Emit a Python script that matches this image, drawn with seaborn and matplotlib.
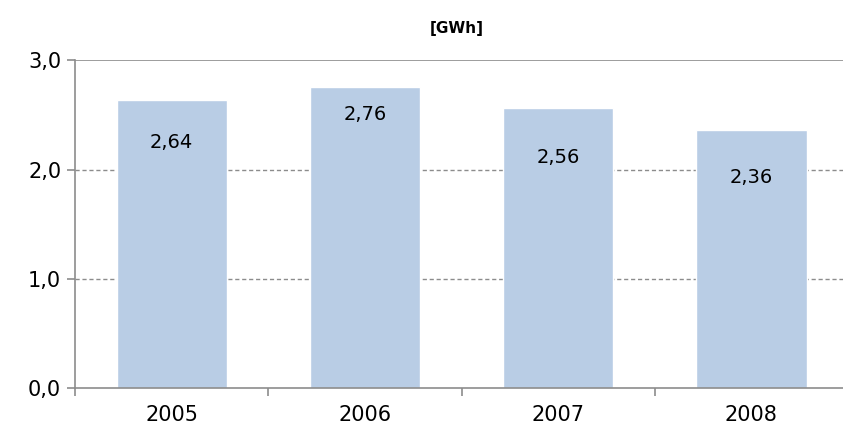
import matplotlib
matplotlib.use("Agg")
import matplotlib.pyplot as plt
import seaborn as sns
import pandas as pd
from matplotlib.ticker import FixedLocator

years = ["2005", "2006", "2007", "2008"]
values = [2.64, 2.76, 2.56, 2.36]
y_ticks = [0.0, 1.0, 2.0, 3.0]
y_tick_labels = ["0,0", "1,0", "2,0", "3,0"]
unit_title = "[GWh]"

sns.set_theme(style="white")
plt.rcParams["font.family"] = ["DejaVu Sans"]

df = pd.DataFrame({"year": years, "value": values})

fig = plt.figure(figsize=(8.43, 4.40), dpi=100)
ax = fig.add_axes([0.089, 0.118, 0.917, 0.745])

sns.barplot(data=df, x="year", y="value", color="#B9CDE5", width=0.57,
            saturation=1, ax=ax, zorder=2)

ax.set_xlim(-0.5, 3.5)
ax.set_ylim(0, 3.0)
ax.set_yticks(y_ticks)
ax.set_yticklabels(y_tick_labels)
ax.set_xlabel("")
ax.set_ylabel("")

# dashed gridlines for inner values, solid line at the top
for y in y_ticks[1:-1]:
    ax.axhline(y, color="#8C8C8C", lw=1, ls=(0, (3, 2)), zorder=1)
ax.axhline(y_ticks[-1], color="#8C8C8C", lw=1.2, zorder=1)

for s in ["top", "right"]:
    ax.spines[s].set_visible(False)
for s in ["left", "bottom"]:
    ax.spines[s].set_color("#8C8C8C")
    ax.spines[s].set_linewidth(1.2)

ax.xaxis.set_major_locator(FixedLocator(range(len(years))))
ax.xaxis.set_minor_locator(FixedLocator([i - 0.5 for i in range(len(years) + 1)]))
ax.tick_params(axis="x", which="major", length=0, pad=12, labelsize=15,
               labelcolor="black")
ax.tick_params(axis="x", which="minor", length=6, width=1.2, color="#8C8C8C",
               direction="out", bottom=True)
ax.tick_params(axis="y", length=6, width=1.2, color="#8C8C8C", direction="out",
               left=True, labelsize=15, pad=4, labelcolor="black")

# value labels inside the bars
label_drop = [0.39, 0.26, 0.45, 0.43]
for i, (v, d) in enumerate(zip(values, label_drop)):
    ax.text(i, v - d, f"{v:.2f}".replace(".", ","), ha="center", va="center",
            fontsize=14, color="black", zorder=3)

fig.text(0.542, 0.935, unit_title, ha="center", va="center", fontsize=11,
         fontweight="bold", color="black")

fig.savefig("out.png", dpi=100)
